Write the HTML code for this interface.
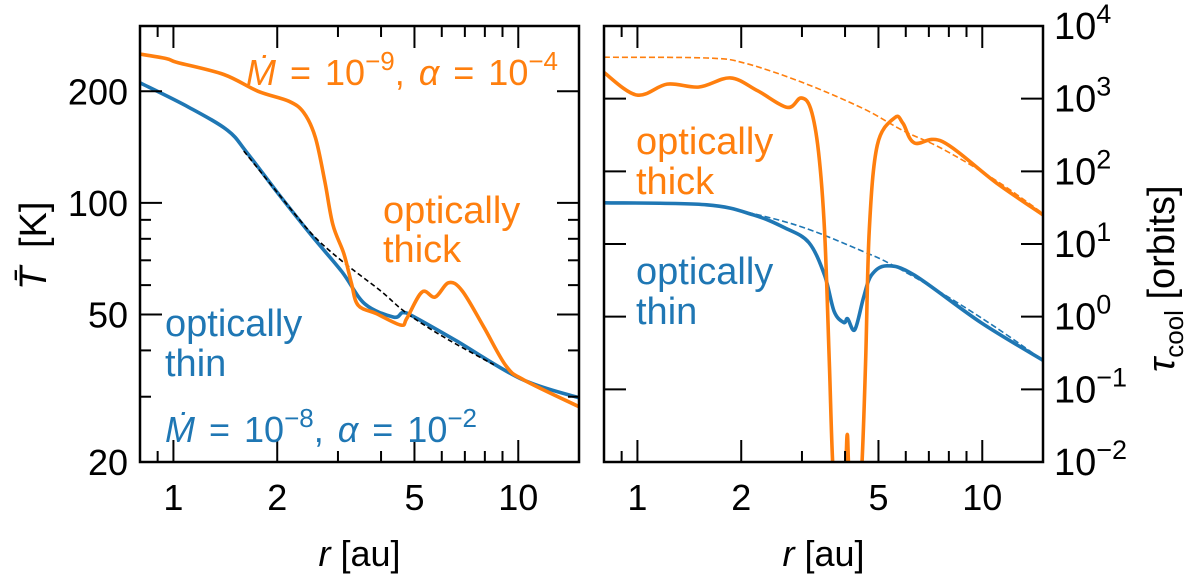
<!DOCTYPE html>
<html><head><meta charset="utf-8"><style>
html,body{margin:0;padding:0;background:#fff;}
svg{display:block;font-family:"Liberation Sans","DejaVu Sans",sans-serif;}
</style></head><body>
<svg id="fig" width="1200" height="585" viewBox="0 0 1200 585"></svg>
<script>
// ---- data ----
const xTickVals = [1, 2, 5, 10];
const xTickLabels = ["1", "2", "5", "10"];
const xMinorVals = [0.9, 3, 4, 6, 7, 8, 9];
const leftYTickVals = [20, 50, 100, 200];
const leftYTickLabels = ["20", "50", "100", "200"];
const leftYMinorVals = [30, 40, 60, 70, 80, 90];
const rightYTickExps = [-2, -1, 0, 1, 2, 3, 4];

const leftOrangeR = [0.8,0.954,1.03,1.4,1.76,2.16,2.39,2.58,2.75,2.9,3.12,3.28,3.43,3.87,4.57,4.75,5.26,5.74,6.28,6.87,7.92,9.22,10.44,15];
const leftOrangeT = [252,245,239,222,200,188,175,150,114,87.3,73,60.9,53,50.3,46.8,48.8,57.5,55.7,60.9,58,46.5,36.3,33.2,28.2];
const leftBlueR = [0.8,1.11,1.435,1.63,2.0,2.52,3.08,3.59,4.35,4.63,5.0,6.6,10.2,15];
const leftBlueT = [210.8,181,157,137,106.8,81.5,65.2,53.4,49.2,50.6,49.2,42.5,33.5,29.8];
const leftDashR = [1.6,2.0,2.52,3.08,3.97,4.63,5.5,6.6,8.5];
const leftDashT = [138,106.8,82.5,69.7,58.1,51.3,46,41.6,36.6];

const rOrangeDashR = [0.8,1.587,2.06,3.06,4.53,5.89,7.66,11.0,15];
const rOrangeDashLog = [3.57,3.56,3.486,3.21,2.86,2.56,2.31,1.87,1.42];
const rOrangeR = [0.8,0.995,1.22,1.51,1.86,2.23,2.72,2.98,3.18,3.35,3.49,3.6,3.69,3.85,4.0,4.06,4.12,4.3,4.47,4.59,4.7,4.96,5.58,5.89,6.36,7.66,11.0,15];
const rOrangeLog = [3.36,3.05,3.2,3.16,3.286,3.11,2.88,3.01,2.86,2.27,1.17,-0.62,-2.1,-3.2,-2.3,-1.62,-2.3,-3.2,-2.1,-0.62,1.17,2.36,2.74,2.66,2.39,2.41,1.84,1.4];
const rBlueDashR = [0.8,1.587,2.17,3.06,4.53,5.44,7.66,11.0,15];
const rBlueDashLog = [1.567,1.54,1.417,1.22,0.894,0.72,0.32,-0.155,-0.6];
const rBlueR = [0.8,1.587,2.17,2.68,3.14,3.49,3.72,3.97,4.07,4.27,4.53,4.77,5.29,6.36,9.9,15];
const rBlueLog = [1.567,1.54,1.4,1.22,1.02,0.57,0.07,-0.08,-0.03,-0.18,0.27,0.57,0.70,0.57,-0.08,-0.6];

// ---- geometry ----
const NS = "http://www.w3.org/2000/svg";
const svg = document.getElementById('fig');
const P = {L:{x0:140,x1:579}, R:{x0:604,x1:1043}, y0:26, y1:462};
const XMIN=0.8, XMAX=15;
function xs(panel, r){ const p=P[panel]; return p.x0 + (Math.log10(r)-Math.log10(XMIN))/(Math.log10(XMAX)-Math.log10(XMIN))*(p.x1-p.x0); }
function yL(T){ return P.y1 - (Math.log10(T)-Math.log10(20))/(Math.log10(300)-Math.log10(20))*(P.y1-P.y0); }
function yR(lg){ return P.y1 - (lg+2)/6*(P.y1-P.y0); }
const ORANGE="#ff7f0e", BLUE="#1f77b4";

function mk(tag, attrs, parent){ const e=document.createElementNS(NS,tag); for(const k in attrs) e.setAttribute(k,attrs[k]); (parent||svg).appendChild(e); return e; }

const defs = mk('defs',{});
['L','R'].forEach(pn=>{
  const c = mk('clipPath',{id:'clip'+pn},defs);
  mk('rect',{x:P[pn].x0,y:P.y0,width:P[pn].x1-P[pn].x0,height:P.y1-P.y0},c);
});

function smoothPath(pts){
  let d = `M${pts[0][0].toFixed(1)},${pts[0][1].toFixed(1)}`;
  for(let i=0;i<pts.length-1;i++){
    const p0=pts[Math.max(0,i-1)], p1=pts[i], p2=pts[i+1], p3=pts[Math.min(pts.length-1,i+2)];
    const c1=[p1[0]+(p2[0]-p0[0])/6, p1[1]+(p2[1]-p0[1])/6];
    const c2=[p2[0]-(p3[0]-p1[0])/6, p2[1]-(p3[1]-p1[1])/6];
    d += ` C${c1[0].toFixed(1)},${c1[1].toFixed(1)} ${c2[0].toFixed(1)},${c2[1].toFixed(1)} ${p2[0].toFixed(1)},${p2[1].toFixed(1)}`;
  }
  return d;
}
function series(panel, rs, vs, yfn, color, width, dash, name){
  const pts = rs.map((r,i)=>[xs(panel,r), yfn(vs[i])]);
  const g = mk('g',{'clip-path':`url(#clip${panel})`});
  const p = mk('path',{d:smoothPath(pts),fill:'none',stroke:color,'stroke-width':width,'stroke-linejoin':'round'},g);
  if(dash) p.setAttribute('stroke-dasharray',dash);
  
  
}

series('L', leftBlueR, leftBlueT, yL, BLUE, 3.6, null, 'left-optically-thin-line');
series('L', leftDashR, leftDashT, yL, '#000', 1.6, '5,3', 'left-analytic-dashed-line');
series('L', leftOrangeR, leftOrangeT, yL, ORANGE, 3.6, null, 'left-optically-thick-line');
series('R', rOrangeDashR, rOrangeDashLog, yR, ORANGE, 1.6, '6,3', 'right-thick-analytic-dashed');
series('R', rBlueDashR, rBlueDashLog, yR, BLUE, 1.6, '6,3', 'right-thin-analytic-dashed');
series('R', rBlueR, rBlueLog, yR, BLUE, 3.6, null, 'right-optically-thin-line');
series('R', rOrangeR, rOrangeLog, yR, ORANGE, 3.6, null, 'right-optically-thick-line');

function line(x1,y1,x2,y2,w,name){ const l=mk('line',{x1,y1,x2,y2,stroke:'#000','stroke-width':w});   return l; }
function txt(x,y,s,opts){ const t=mk('text',Object.assign({x,y,'font-size':36,fill:'#000'},opts||{})); t.textContent=s; return t; }
const MAJ=22, MIN=11;
['L','R'].forEach(pn=>{
  const p=P[pn];
  xTickVals.forEach((v,i)=>{
    const x=xs(pn,v);
    line(x,P.y1,x,P.y1-MAJ,2,'x-tick-'+pn);
    line(x,P.y0,x,P.y0+MAJ,2,'x-tick-top-'+pn);
    const t=txt(x,510,xTickLabels[i],{'text-anchor':'middle'});
     
  });
  xMinorVals.forEach(v=>{
    const x=xs(pn,v);
    line(x,P.y1,x,P.y1-MIN,2,'x-minor-tick');
    line(x,P.y0,x,P.y0+MIN,2,'x-minor-tick-top');
  });
  const t=mk('text',{x:(p.x0+p.x1)/2,y:566,'font-size':36,'text-anchor':'middle'});
  t.innerHTML='<tspan font-style="italic">r</tspan>  [au]';
   
});
leftYTickVals.forEach((v,i)=>{
  const y=yL(v);
  line(P.L.x0,y,P.L.x0+MAJ,y,2,'left-y-tick');
  line(P.L.x1,y,P.L.x1-MAJ,y,2,'left-y-tick-right');
  const t=txt(128,y+13,leftYTickLabels[i],{'text-anchor':'end'});
   
});
leftYMinorVals.forEach(v=>{
  const y=yL(v);
  line(P.L.x0,y,P.L.x0+MIN,y,2,'left-y-minor-tick');
  line(P.L.x1,y,P.L.x1-MIN,y,2,'left-y-minor-tick-right');
});
rightYTickExps.forEach(e=>{
  const y=yR(e);
  line(P.R.x0,y,P.R.x0+MAJ,y,2,'right-y-tick-left');
  line(P.R.x1,y,P.R.x1-MAJ,y,2,'right-y-tick');
  const t=mk('text',{x:1054,y:y+13,'font-size':38});
  t.innerHTML='10<tspan dy="-16" font-size="27">'+(e<0?'\u2212'+(-e):e)+'</tspan>';
   
});
['L','R'].forEach(pn=>{
  const p=P[pn];
  const r=mk('rect',{x:p.x0,y:P.y0,width:p.x1-p.x0,height:P.y1-P.y0,fill:'none',stroke:'#000','stroke-width':2.5});
  
  
});

function addT(html,attrs,name){
  const t=document.createElementNS(NS,'text');
  for(const k in attrs) t.setAttribute(k,attrs[k]);
  t.innerHTML=html;
  
  
  svg.appendChild(t);
}
addT('T̄',{x:0,y:0,'font-size':38,'font-style':'italic',transform:'translate(46,290) rotate(-90)'},'y-axis-symbol');
addT('[K]',{x:0,y:0,'font-size':38,transform:'translate(46,248) rotate(-90)'},'y-axis-unit');
addT('<tspan font-style="italic">τ</tspan><tspan font-size="26" dy="9">cool</tspan><tspan dy="-9">  [orbits]</tspan>',{x:0,y:0,'font-size':38,transform:'translate(1174,372) rotate(-90)'},'right-y-axis-title');
const O=ORANGE, B=BLUE;
addT('<tspan font-style="italic">Ṁ</tspan> = 10<tspan dy="-15" font-size="26">−9</tspan><tspan dy="15">,  </tspan><tspan font-style="italic">α</tspan> = 10<tspan dy="-15" font-size="26">−4</tspan>',{x:246,y:85,'font-size':36,fill:O,'word-spacing':'4'},'thick-params-label');
addT('optically',{x:383,y:223,'font-size':38,fill:O},'left-thick-label');
addT('thick',{x:383,y:262,'font-size':38,fill:O},'left-thick-label-2');
addT('optically',{x:165,y:336,'font-size':38,fill:B},'left-thin-label');
addT('thin',{x:165,y:376,'font-size':38,fill:B},'left-thin-label-2');
addT('<tspan font-style="italic">Ṁ</tspan> = 10<tspan dy="-15" font-size="26">−8</tspan><tspan dy="15">,  </tspan><tspan font-style="italic">α</tspan> = 10<tspan dy="-15" font-size="26">−2</tspan>',{x:165,y:442,'font-size':36,fill:B,'word-spacing':'4'},'thin-params-label');
addT('optically',{x:636,y:154,'font-size':38,fill:O},'right-thick-label');
addT('thick',{x:636,y:194,'font-size':38,fill:O},'right-thick-label-2');
addT('optically',{x:636,y:284,'font-size':38,fill:B},'right-thin-label');
addT('thin',{x:636,y:324,'font-size':38,fill:B},'right-thin-label-2');
</script>
</body></html>
